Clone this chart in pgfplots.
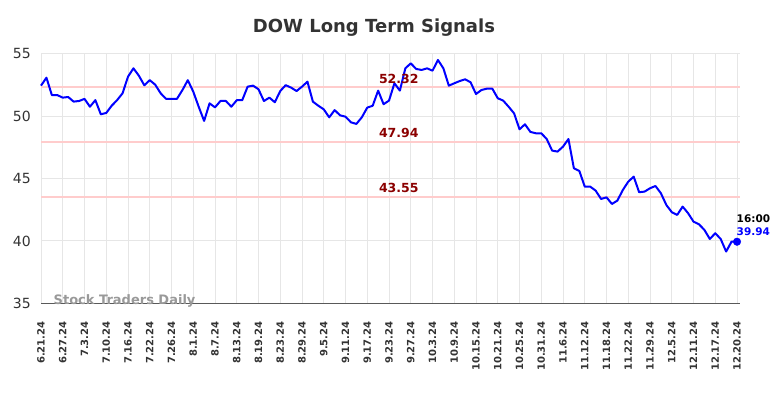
\documentclass[border=0pt]{standalone}
\usepackage{pgfplots}
\pgfplotsset{compat=1.18}
\usepackage{fontspec}
\setmainfont{DejaVu Sans}
\definecolor{titlegray}{HTML}{333333}
\definecolor{tickgray}{HTML}{333333}
\definecolor{gridgray}{HTML}{E6E6E6}
\definecolor{levelred}{HTML}{FFCCCC}
\definecolor{levtext}{HTML}{8B0000}
\definecolor{wm}{HTML}{999999}
\pgfplotstableread{
x y
0 52.46
1 53.10
2 51.70
3 51.70
4 51.50
5 51.55
6 51.18
7 51.23
8 51.40
9 50.77
10 51.30
11 50.16
12 50.27
13 50.85
14 51.30
15 51.85
16 53.18
17 53.85
18 53.26
19 52.49
20 52.90
21 52.54
22 51.85
23 51.40
24 51.40
25 51.40
26 52.10
27 52.90
28 51.98
29 50.77
30 49.63
31 51.04
32 50.72
33 51.23
34 51.23
35 50.77
36 51.29
37 51.29
38 52.38
39 52.46
40 52.17
41 51.23
42 51.50
43 51.13
44 52.03
45 52.50
46 52.30
47 52.03
48 52.38
49 52.78
50 51.18
51 50.85
52 50.56
53 49.92
54 50.50
55 50.08
56 49.97
57 49.52
58 49.39
59 49.92
60 50.70
61 50.85
62 52.06
63 50.97
64 51.26
65 52.65
66 52.06
67 53.85
68 54.25
69 53.80
70 53.72
71 53.85
72 53.66
73 54.52
74 53.85
75 52.46
76 52.65
77 52.83
78 52.97
79 52.73
80 51.79
81 52.11
82 52.22
83 52.22
84 51.45
85 51.26
86 50.77
87 50.24
88 48.96
89 49.36
90 48.75
91 48.64
92 48.64
93 48.18
94 47.25
95 47.17
96 47.57
97 48.18
98 45.83
99 45.62
100 44.36
101 44.36
102 44.04
103 43.37
104 43.50
105 42.97
106 43.24
107 44.09
108 44.76
109 45.16
110 43.91
111 43.96
112 44.23
113 44.41
114 43.83
115 42.89
116 42.31
117 42.09
118 42.76
119 42.23
120 41.55
121 41.34
122 40.89
123 40.16
124 40.62
125 40.16
126 39.15
127 39.95
128 39.94
}\dowdata
\begin{document}
\begin{tikzpicture}
\useasboundingbox (0,0) rectangle (784pt,398pt);
\begin{axis}[
  at={(41pt,94.7pt)}, anchor=south west,
  scale only axis, width=699pt, height=249.3pt,
  xmin=0, xmax=128.55, ymin=35, ymax=55,
  clip=false,
  axis x line*=bottom,
  axis y line*=left,
  x axis line style={draw=black!65, line width=1.3pt, -},
  y axis line style={draw=none, -},
  xtick={0,4,...,128},
  xticklabels={6.21.24,6.27.24,7.3.24,7.10.24,7.16.24,7.22.24,7.26.24,8.1.24,8.7.24,8.13.24,8.19.24,8.23.24,8.29.24,9.5.24,9.11.24,9.17.24,9.23.24,9.27.24,10.3.24,10.9.24,10.15.24,10.21.24,10.25.24,10.31.24,11.6.24,11.12.24,11.18.24,11.22.24,11.29.24,12.5.24,12.11.24,12.17.24,12.20.24},
  ytick={35,40,45,50,55},
  major tick length=0pt,
  grid=major,
  major grid style={draw=gridgray, line width=1pt},
  xticklabel style={rotate=90, anchor=east, inner sep=0pt, font=\fontsize{10pt}{11pt}\selectfont\bfseries, text=tickgray},
  xticklabel shift=18pt,
  yticklabel style={anchor=east, inner sep=0pt, font=\fontsize{14pt}{15pt}\selectfont, text=tickgray},
  yticklabel shift=10pt,
  /pgf/number format/assume math mode=true,
]
\node[anchor=base west, inner sep=0pt, text=wm, font=\fontsize{13pt}{14pt}\selectfont\bfseries] at (axis cs:2.3,35) [yshift=-1.5pt] {Stock Traders Daily};
\addplot[draw=levelred, line width=2pt] coordinates {(0,52.32) (128.55,52.32)};
\addplot[draw=levelred, line width=2pt] coordinates {(0,47.94) (128.55,47.94)};
\addplot[draw=levelred, line width=2pt] coordinates {(0,43.55) (128.55,43.55)};
\addplot[draw=blue, line width=2pt, line join=round] table[x=x,y=y] {\dowdata};
\addplot[only marks, mark=*, mark size=3.8pt, blue] coordinates {(128,39.94)};
\node[anchor=base, inner sep=0pt, text=levtext, font=\fontsize{12.5pt}{13pt}\selectfont\bfseries] at (axis cs:65.8,52.32) [yshift=4pt] {52.32};
\node[anchor=base, inner sep=0pt, text=levtext, font=\fontsize{12.5pt}{13pt}\selectfont\bfseries] at (axis cs:65.8,47.94) [yshift=4pt] {47.94};
\node[anchor=base, inner sep=0pt, text=levtext, font=\fontsize{12.5pt}{13pt}\selectfont\bfseries] at (axis cs:65.8,43.55) [yshift=4pt] {43.55};
\node[anchor=base west, inner sep=0pt, text=black, font=\fontsize{10.5pt}{11pt}\selectfont\bfseries] at (axis cs:128,39.94) [yshift=19.5pt, xshift=-0.5pt] {16:00};
\node[anchor=base west, inner sep=0pt, text=blue, font=\fontsize{10.5pt}{11pt}\selectfont\bfseries] at (axis cs:128,39.94) [yshift=6pt, xshift=-0.5pt] {39.94};
\end{axis}
\node[anchor=base, inner sep=0pt, text=titlegray, font=\fontsize{18pt}{19pt}\selectfont\bfseries] at (374pt,365pt) {DOW Long Term Signals};
\end{tikzpicture}
\end{document}
